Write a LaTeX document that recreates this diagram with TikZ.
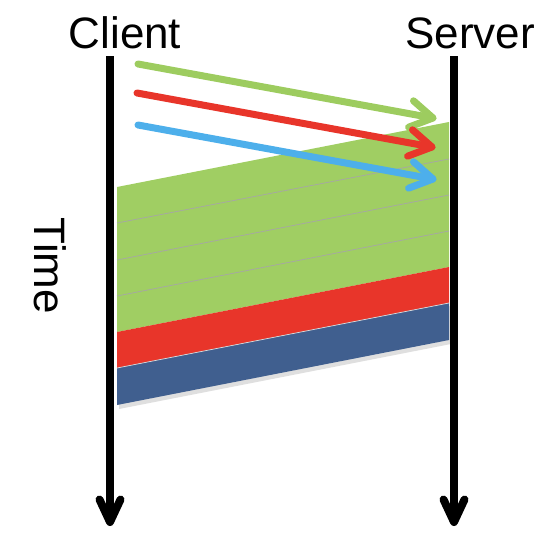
\documentclass[tikz,border=0pt]{standalone}
\usepackage{fontspec}
\setmainfont{Liberation Sans}
\usetikzlibrary{calc}
\definecolor{sgreen}{HTML}{A0CE63}
\definecolor{agreen}{HTML}{9DCC5F}
\definecolor{sred}{HTML}{E8352A}
\definecolor{ablue}{HTML}{4DAFEB}
\definecolor{sblue}{HTML}{405F8F}
\begin{document}
\begin{tikzpicture}[x=1pt,y=-1pt,
  lbl/.style={font=\fontsize{44}{50}\selectfont, inner sep=0pt},
  msg/.style={line width=7pt, line cap=round, line join=round},
  tline/.style={line width=8pt, line cap=round, line join=round},
  divider/.style={draw=black!35, line width=0.7pt}]
\useasboundingbox (0,0) rectangle (540,546);
% shadow
\fill[black!25, opacity=0.5] (119,371) -- (451,306) -- (451,344) -- (119,409) -- cycle;
% stripes
\fill[sgreen] (117,187) -- (449,122) -- (449,267) -- (117,332) -- cycle;
\fill[sred] (117,332) -- (449,267) -- (449,303) -- (117,368) -- cycle;
\fill[sblue] (117,368) -- (449,303) -- (449,340) -- (117,405) -- cycle;
\draw[divider] (117,223) -- (449,159);
\draw[divider] (117,260) -- (449,195);
\draw[divider] (117,296) -- (449,231);
\draw[divider, draw=black!15] (117,368) -- (449,303);
% messages
\coordinate (g1) at (138,64);  \coordinate (g2) at (433,118);
\coordinate (r1) at (137,93);  \coordinate (r2) at (432,147);
\coordinate (b1) at (138,125); \coordinate (b2) at (433,179);
\foreach \s/\e/\c in {g1/g2/agreen, r1/r2/sred, b1/b2/ablue}{
  \draw[msg, \c] (\s) -- (\e);
  \draw[msg, \c] ($(\e)!26pt!31:(\s)$) -- (\e) -- ($(\e)!26pt!-31:(\s)$);
}
% time lines
\coordinate (ct) at (110,56); \coordinate (cb) at (110,522);
\coordinate (st) at (454,56); \coordinate (sb) at (454,522);
\foreach \s/\e in {ct/cb, st/sb}{
  \draw[tline, line cap=butt] (\s) -- ($(\e)+(0,-3)$);
  \draw[tline] ($(\e)+(-10.5,-22.5)$) -- (\e) -- ($(\e)+(10.5,-22.5)$);
}
% labels
\node[lbl, anchor=base] (client) at (125,48) {Client};
\node[lbl, anchor=base] (server) at (470,48) {Server};
\node[lbl, rotate=-90] (time) at (50,266) {Time};
\end{tikzpicture}
\end{document}
